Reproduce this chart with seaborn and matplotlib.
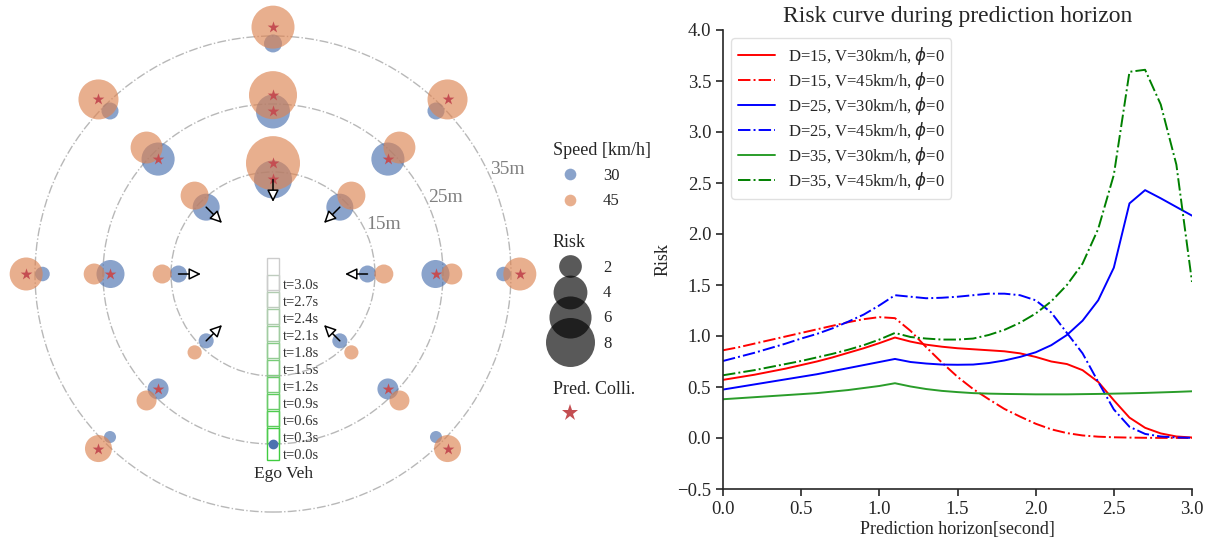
import numpy as np
import pandas as pd
import matplotlib.pyplot as plt
import matplotlib.patches as mpatches
from matplotlib.lines import Line2D
import seaborn as sns

sns.set_style('ticks')
plt.rcParams['font.family'] = ['Liberation Serif', 'DejaVu Sans']
plt.rcParams['mathtext.fontset'] = 'dejavusans'

# ---------------- data: left panel (surrounding vehicles) ----------------
angles = [90, 45, 135, 0, 180, -45, -135]   # approach direction [deg]
rings = [15, 25, 35]                         # initial distance D [m]
speeds = [30, 45]                            # km/h
r_shift = {30: -1.1, 45: 1.3}                # start offset along the approach [m]

# risk for each angle (same order as `angles`)
risk = {
    (15, 30): [4.96, 2.68, 2.68, 1.28, 1.28, 1.08, 1.08],
    (15, 45): [9.65, 2.86, 2.86, 1.51, 1.51, 1.00, 1.00],
    (25, 30): [4.04, 3.85, 3.85, 2.86, 2.86, 1.76, 1.76],
    (25, 45): [7.70, 3.60, 3.60, 1.76, 1.76, 1.63, 1.63],
    (35, 30): [1.39, 1.28, 1.28, 1.03, 1.03, 0.82, 0.82],
    (35, 45): [6.25, 5.46, 5.46, 3.83, 3.83, 2.68, 2.68],
}
# predicted collision flag per angle
colli = {
    (15, 30): [1, 0, 0, 0, 0, 0, 0],
    (15, 45): [1, 0, 0, 0, 0, 0, 0],
    (25, 30): [1, 1, 1, 1, 1, 1, 1],
    (25, 45): [1, 0, 0, 0, 0, 0, 0],
    (35, 30): [0, 0, 0, 0, 0, 0, 0],
    (35, 45): [1, 1, 1, 1, 1, 1, 1],
}

# ego vehicle
ego_start = -25.0            # m
ego_speed = 30 / 3.6         # m/s
ego_times = [0.0, 0.3, 0.6, 0.9, 1.2, 1.5, 1.8, 2.1, 2.4, 2.7, 3.0]

# ---------------- data: right panel (risk curves) ----------------
horizon = np.round(np.arange(0, 3.01, 0.1), 1)
risk_15_30 = [0.57, 0.595, 0.62, 0.65, 0.68, 0.715, 0.75, 0.79, 0.835, 0.88, 0.93,
              0.985, 0.945, 0.915, 0.895, 0.88, 0.87, 0.86, 0.85, 0.83, 0.795,
              0.75, 0.725, 0.665, 0.55, 0.37, 0.20, 0.10, 0.045, 0.015, 0.005]
risk_15_45 = [0.86, 0.89, 0.925, 0.96, 0.995, 1.03, 1.065, 1.10, 1.135, 1.165, 1.185,
              1.175, 1.05, 0.89, 0.74, 0.60, 0.48, 0.38, 0.285, 0.21, 0.14,
              0.085, 0.048, 0.025, 0.013, 0.007, 0.004, 0.002, 0.001, 0.001, 0.0]
risk_25_30 = [0.475, 0.50, 0.525, 0.55, 0.575, 0.60, 0.625, 0.655, 0.685, 0.715, 0.745,
              0.775, 0.745, 0.73, 0.72, 0.718, 0.72, 0.735, 0.76, 0.795, 0.84,
              0.91, 1.01, 1.15, 1.35, 1.67, 2.30, 2.43, 2.35, 2.265, 2.18]
risk_25_45 = [0.755, 0.795, 0.835, 0.88, 0.925, 0.975, 1.02, 1.075, 1.14, 1.21, 1.30,
              1.40, 1.385, 1.37, 1.375, 1.385, 1.40, 1.415, 1.415, 1.40, 1.35,
              1.23, 1.03, 0.83, 0.55, 0.28, 0.11, 0.04, 0.015, 0.005, 0.002]
risk_35_30 = [0.38, 0.39, 0.40, 0.41, 0.42, 0.43, 0.44, 0.455, 0.47, 0.49, 0.51,
              0.537, 0.505, 0.48, 0.462, 0.45, 0.44, 0.435, 0.432, 0.43, 0.428,
              0.428, 0.428, 0.43, 0.432, 0.435, 0.438, 0.442, 0.447, 0.452, 0.458]
risk_35_45 = [0.615, 0.64, 0.665, 0.695, 0.725, 0.755, 0.79, 0.825, 0.865, 0.91, 0.965,
              1.03, 0.99, 0.975, 0.965, 0.965, 0.975, 1.01, 1.06, 1.13, 1.22,
              1.34, 1.50, 1.71, 2.05, 2.58, 3.59, 3.61, 3.27, 2.68, 1.53]

curve_labels = [r'D=15, V=30km/h, $\phi$=0', r'D=15, V=45km/h, $\phi$=0',
                r'D=25, V=30km/h, $\phi$=0', r'D=25, V=45km/h, $\phi$=0',
                r'D=35, V=30km/h, $\phi$=0', r'D=35, V=45km/h, $\phi$=0']
curve_colors = ['red', 'red', 'blue', 'blue', '#2a9d2a', 'green']
curve_styles = ['-', '-.', '-', '-.', '-', '-.']

# ---------------- build vehicle table ----------------
rows = []
for spd in speeds:
    for D in rings:
        for k, ang in enumerate(angles):
            r = D + r_shift[spd]
            rows.append({'x': r * np.cos(np.radians(ang)), 'y': r * np.sin(np.radians(ang)),
                         'speed': spd, 'risk': risk[(D, spd)][k],
                         'colli': bool(colli[(D, spd)][k]), 'ring': D, 'angle': ang})
veh = pd.DataFrame(rows)

pal = {30: '#4c72b0', 45: '#dd8452'}
size_norm = (0.5, 10)
size_range = (23, 1570)


def bubble_area(r):
    return size_range[0] + (size_range[1] - size_range[0]) * (r - size_norm[0]) / (size_norm[1] - size_norm[0])


fig = plt.figure(figsize=(12.16, 5.41), dpi=100)

# ---------------- left panel ----------------
ax1 = fig.add_axes([0, 0, 546 / 1216, 1])
ax1.set_xlim(-40.15, 40.15)
ax1.set_ylim(-39.26, 40.29)
ax1.axis('off')

for D in rings:
    ax1.add_patch(mpatches.Circle((0, 0), D, fill=False, ls='-.', lw=1.0, ec='0.72', zorder=0))
    a = np.radians(24)
    ax1.text((D + 2.8) * np.cos(a), (D + 2.8) * np.sin(a), f'{D}m', color='0.5',
             fontsize=14, ha='center', va='center')

sns.scatterplot(data=veh, x='x', y='y', hue='speed', size='risk', palette=pal,
                sizes=size_range, size_norm=size_norm, alpha=0.65, linewidth=0,
                legend=False, ax=ax1, zorder=2)
sns.scatterplot(data=veh[veh['colli']], x='x', y='y', marker='*', color='#c44e52',
                s=78, linewidth=0, legend=False, ax=ax1, zorder=3)

# heading arrows for the closest ring
inner = veh[(veh['ring'] == 15) & (veh['speed'] == 30)]
for _, v in inner.iterrows():
    a = np.radians(v['angle'])
    r0 = np.hypot(v['x'], v['y'])
    tip = ((r0 - 3.3) * np.cos(a), (r0 - 3.3) * np.sin(a))
    ax1.annotate('', xy=tip, xytext=(v['x'], v['y']), zorder=4,
                 arrowprops=dict(arrowstyle='-|>,head_length=0.45,head_width=0.22',
                                 fc='white', ec='black', lw=1.1, shrinkA=0, shrinkB=0,
                                 mutation_scale=16))

# ego vehicle trajectory
for t in ego_times:
    f = t / ego_times[-1]
    col = (0.25 + 0.55 * f, 0.80, 0.25 + 0.55 * f)
    yc = ego_start + ego_speed * t
    ax1.add_patch(mpatches.Rectangle((-0.93, yc - 2.3), 1.86, 4.6, fill=False,
                                     ec=col, lw=1.0, zorder=1))
    ax1.text(1.5, yc - 1.7, f't={t:.1f}s', fontsize=10.5, color='0.2', va='center', ha='left')
ax1.plot(0, ego_start, 'o', color='#4c72b0', ms=6, zorder=5)
ax1.text(1.5, -29.4, 'Ego Veh', fontsize=12.5, ha='center', va='center', color='0.15')

# legends
leg_kw = dict(loc='upper left', bbox_transform=fig.transFigure, frameon=False, fontsize=12,
              title_fontsize=13, alignment='left', borderaxespad=0, borderpad=0,
              handlelength=2.0, handletextpad=1.0, labelspacing=0.55)
spd_handles = [Line2D([], [], marker='o', ls='', color=pal[s], alpha=0.65, ms=8.4, mew=0)
               for s in speeds]
leg1 = ax1.legend(spd_handles, [str(s) for s in speeds], title='Speed [km/h]',
                  bbox_to_anchor=(553 / 1216, 1 - 142 / 541), **leg_kw)
ax1.add_artist(leg1)
risk_ticks = [2, 4, 6, 8]
risk_handles = [Line2D([], [], marker='o', ls='', color='k', alpha=0.65,
                       ms=np.sqrt(bubble_area(r)), mew=0) for r in risk_ticks]
leg2 = ax1.legend(risk_handles, [str(r) for r in risk_ticks], title='Risk',
                  bbox_to_anchor=(553 / 1216, 1 - 234 / 541), **leg_kw)
ax1.add_artist(leg2)
star = Line2D([], [], marker='*', ls='', color='#c44e52', ms=12.5, mew=0)
ax1.legend([star], [''], title='Pred. Colli.',
           bbox_to_anchor=(553 / 1216, 1 - 381 / 541), **leg_kw)

# ---------------- right panel ----------------
ax2 = fig.add_axes([723 / 1216, (541 - 489) / 541, 469 / 1216, 459 / 541])
series = [risk_15_30, risk_15_45, risk_25_30, risk_25_45, risk_35_30, risk_35_45]
for vals, c, ls, lab in zip(series, curve_colors, curve_styles, curve_labels):
    sns.lineplot(x=horizon, y=vals, color=c, linestyle=ls, lw=1.4, label=lab, ax=ax2)

ax2.set_xlim(0, 3.0)
ax2.set_ylim(-0.5, 4.0)
ax2.set_xticks(np.arange(0, 3.01, 0.5))
ax2.set_yticks(np.arange(-0.5, 4.01, 0.5))
ax2.set_xticklabels([f'{v:.1f}' for v in np.arange(0, 3.01, 0.5)])
ax2.set_yticklabels([f'{v:.1f}'.replace('-', '\u2212') for v in np.arange(-0.5, 4.01, 0.5)])
ax2.tick_params(labelsize=13.5, length=5, width=1.2, color='0.15')
for sp in ax2.spines.values():
    sp.set_linewidth(1.2)
sns.despine(ax=ax2)
ax2.set_title('Risk curve during prediction horizon', fontsize=17)
ax2.set_xlabel('Prediction horizon[second]', fontsize=13, labelpad=2)
ax2.set_ylabel('Risk', fontsize=13)
ax2.legend(loc='upper left', fontsize=12, labelspacing=0.18, handlelength=2.2,
           borderaxespad=0.5, edgecolor='0.85')

fig.savefig('out.png', dpi=100)
